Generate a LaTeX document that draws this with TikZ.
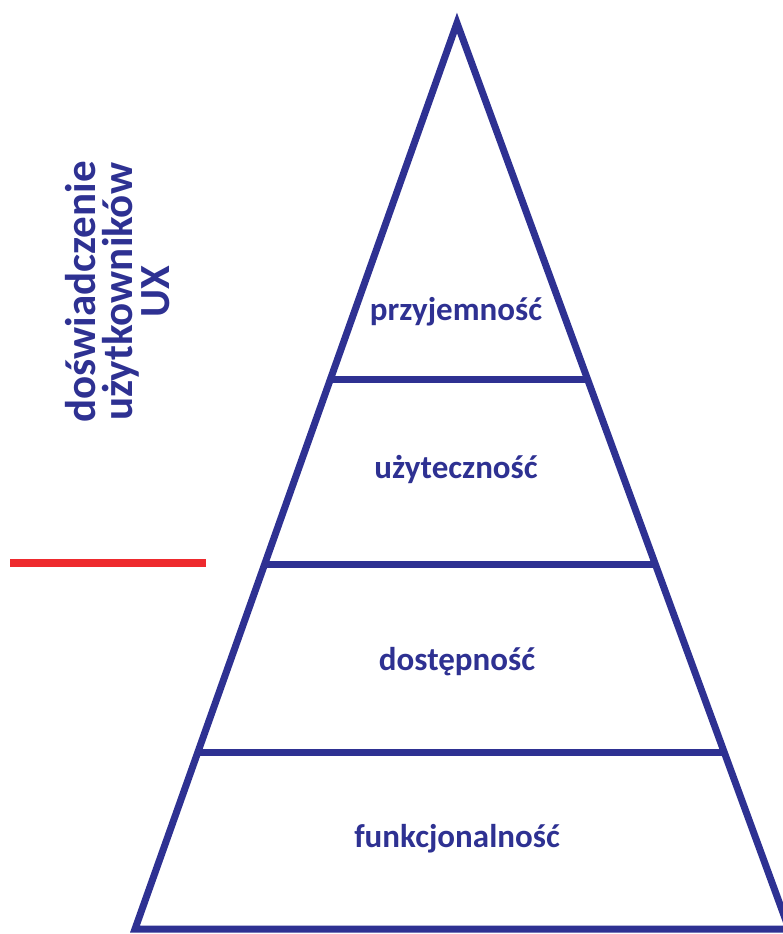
\documentclass[tikz,border=0pt]{standalone}
\usepackage{fontspec}
\setmainfont{Carlito}
\usetikzlibrary{calc}
\definecolor{uxblue}{HTML}{2E3192}
\definecolor{uxred}{HTML}{EE2A2E}

\begin{document}
\begin{tikzpicture}[x=1pt,y=-1pt,
    edge/.style={uxblue,line width=7pt,line join=miter},
    marker/.style={uxred,line width=7.5pt},
    level/.style={anchor=base,text=uxblue,font=\bfseries\fontsize{33}{40}\selectfont}]
    \useasboundingbox (0,0) rectangle (783,934);
    \begin{scope}
    \clip (0,0) rectangle (783,934);
    \coordinate (apex) at (457,23);
    \coordinate (bl) at (135,929);
    \coordinate (br) at (789,929);

    \draw[edge] (bl) -- (apex) -- (br) -- cycle;
    \foreach \t/\n in {0.394/a,0.598/b,0.805/c} {
        \coordinate (l\n) at ($ (apex)!\t!(bl) $);
        \coordinate (r\n) at ($ (apex)!\t!(br) $);
        \draw[edge] (l\n) -- (r\n);
    }
    \end{scope}

    \node[level] (top) at (456,320) {przyjemność};
    \node[level] (use) at (456,478) {użyteczność};
    \node[level] (acc) at (457,670) {dostępność};
    \node[level] (fun) at (457,847) {funkcjonalność};

    \node[rotate=90,align=center,text=uxblue,font=\bfseries\fontsize{43}{37}\selectfont]
        (ux) at (118,292) {doświadczenie\\użytkowników\\UX};

    \coordinate (ma) at (10,563);
    \coordinate (mb) at (206,563);
    \draw[marker] (ma) -- (mb);
\end{tikzpicture}
\end{document}
